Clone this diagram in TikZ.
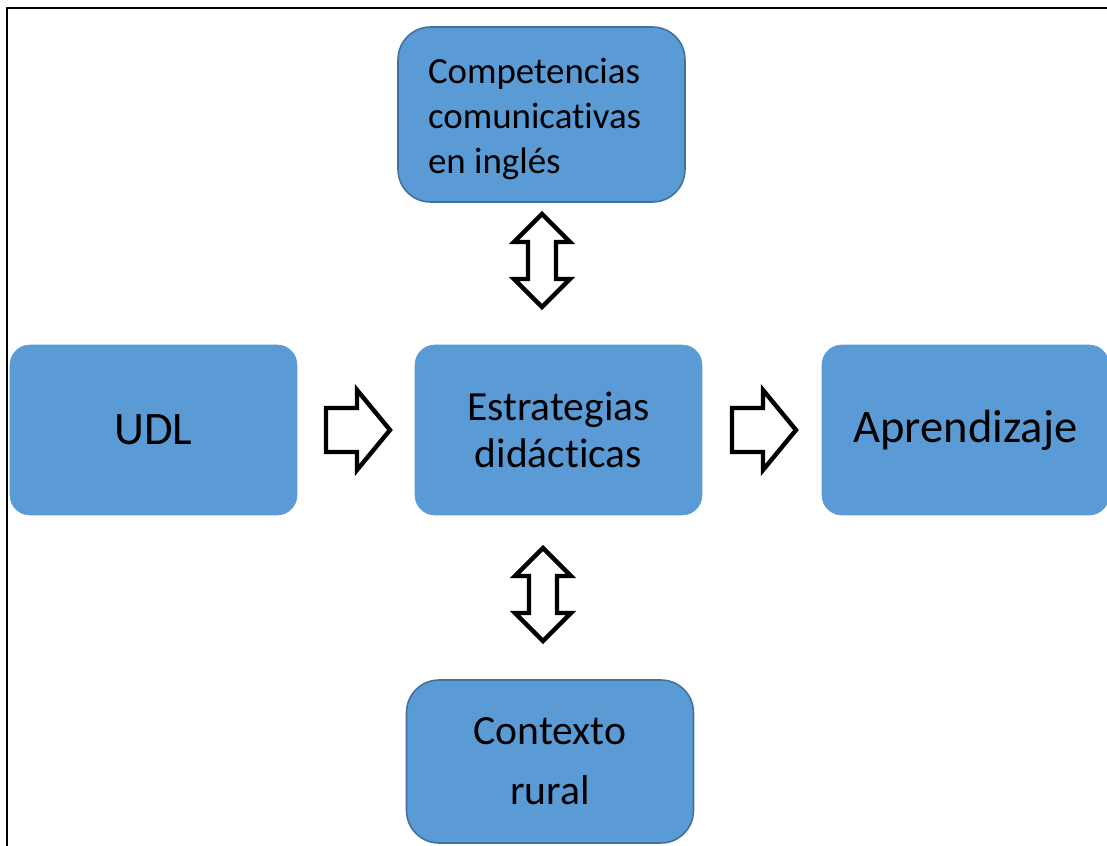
\documentclass[tikz,border=0pt]{standalone}
\usepackage{fontspec}
\setmainfont{Carlito}[Ligatures=NoCommon]
\usepackage{tikz}
\usepackage{xcolor}

\definecolor{boxfill}{HTML}{5B9BD5}
\definecolor{boxline}{HTML}{41719C}

\tikzset{
  box/.style={rectangle, rounded corners=0.4cm, fill=boxfill, draw=boxfill,
    minimum width=5.74cm, minimum height=3.4cm, inner sep=0pt, align=center},
  boxframed/.style={box, draw=boxline, line width=0.9pt, rounded corners=0.65cm},
  blockarrow/.style={draw=black, fill=white, line width=2.5pt, line join=miter}
}

\begin{document}
\begin{tikzpicture}[x=0.02cm, y=-0.02cm]

  \useasboundingbox (0,0) rectangle (1107,846);

  % Frame
  \draw[line width=1.3pt] (1107,8) -- (7,8) -- (7,846);

  % Boxes
  \node[boxframed, minimum height=3.5cm, text width=4.54cm, align=left,
    font=\fontsize{21}{25.6}\selectfont] (comp) at (541.5,114.5)
    {\spaceskip=0pt\relax\rule{0pt}{19pt}Competencias\\comunicativas\\en inglés};
  \node[box, font=\fontsize{23.6}{26.6}\selectfont] (estr) at (558.5,430)
    {Estrategias\\didácticas};
  \node[box, font=\fontsize{26.5}{30}\selectfont] (udl) at (153.5,430) {UDL};
  \node[box, font=\fontsize{26.5}{30}\selectfont] (apr) at (965.5,430) {Aprendizaje};
  \node[boxframed, minimum height=3.26cm, font=\fontsize{23.7}{34}\selectfont]
    (ctx) at (550,761.5) {Contexto\\rural};

  % Single block arrows
  \foreach \xs in {326,732}{
    \draw[blockarrow] (\xs,408) -- (\xs+31,408) -- (\xs+31,390) -- (\xs+64,430)
      -- (\xs+31,470) -- (\xs+31,452) -- (\xs,452) -- cycle;
  }

  % Double block arrows
  \foreach \xc/\yt in {542/214, 543/548}{
    \draw[blockarrow] (\xc,\yt) -- (\xc+28,\yt+28) -- (\xc+14,\yt+28)
      -- (\xc+14,\yt+65) -- (\xc+28,\yt+65) -- (\xc,\yt+93)
      -- (\xc-28,\yt+65) -- (\xc-14,\yt+65) -- (\xc-14,\yt+28)
      -- (\xc-28,\yt+28) -- cycle;
  }

\end{tikzpicture}
\end{document}
